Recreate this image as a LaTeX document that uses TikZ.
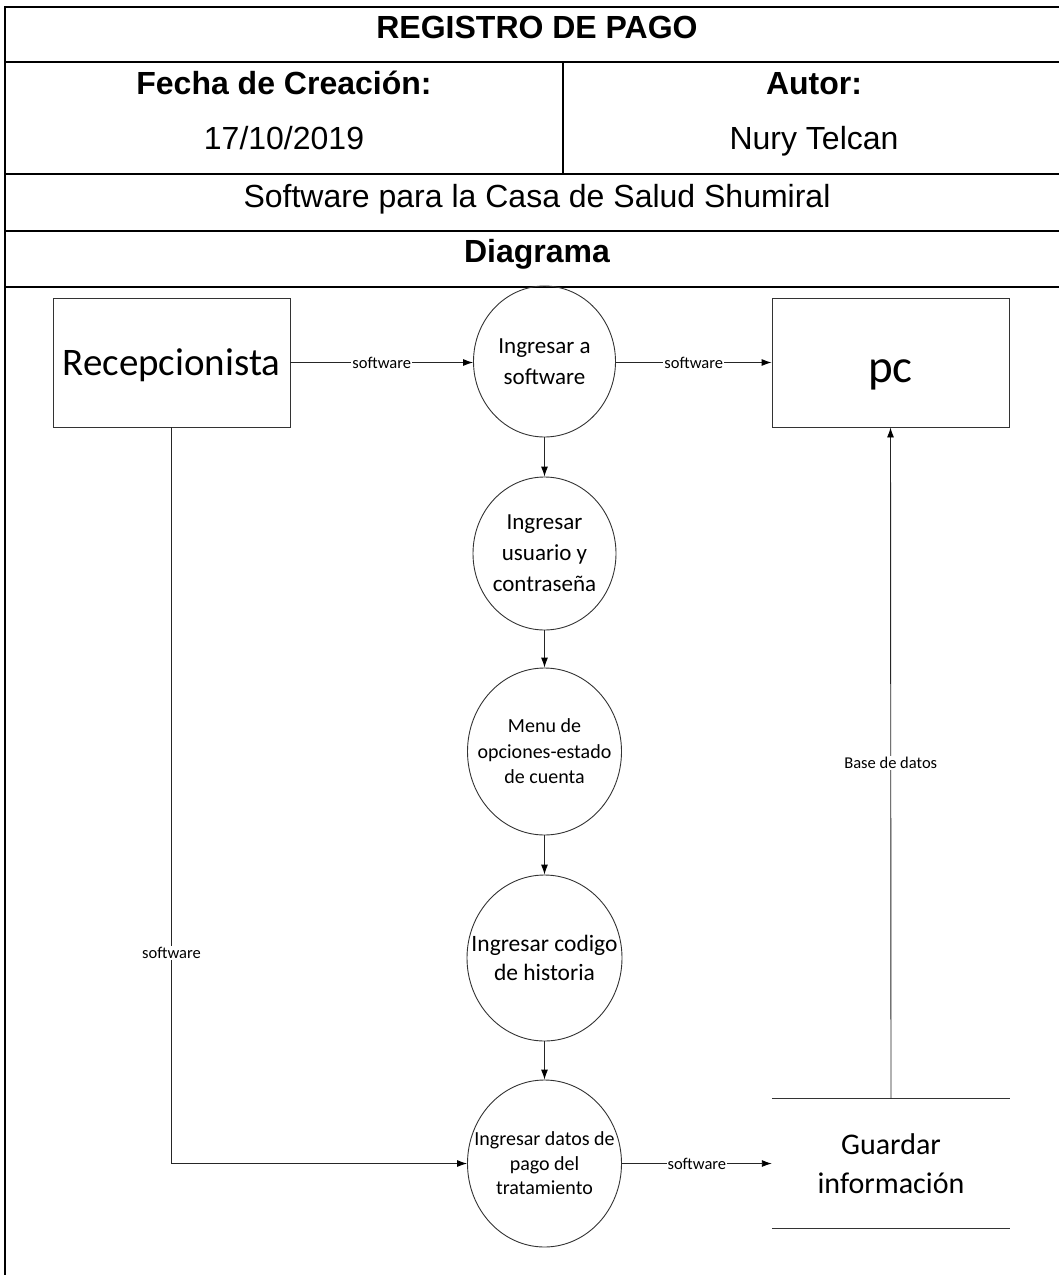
\documentclass[tikz,border=0pt]{standalone}
\usepackage{fontspec}
\setmainfont{Liberation Sans}
\newfontfamily\calibfont{Carlito}
\usetikzlibrary{shapes.geometric,arrows.meta}
\begin{document}
\begin{tikzpicture}[x=1pt,y=-1pt,
  gridline/.style={line width=1.6pt,black},
  hdr/.style={anchor=base,inner sep=0pt,font=\fontsize{32}{38}\selectfont\bfseries},
  cell/.style={anchor=base,inner sep=0pt,font=\fontsize{32}{38}\selectfont},
  ent/.style={draw=black!80,line width=0.9pt,rectangle,minimum width=237pt,minimum height=129pt,inner sep=0pt},
  proc/.style={draw=black!80,line width=0.9pt,ellipse,inner sep=0pt},
  ptext/.style={align=center,inner sep=0pt},
  flow/.style={draw=black!85,line width=0.9pt,-{Latex[length=10pt,width=7pt,color=black]}},
  lbl/.style={fill=white,inner sep=1pt,font=\calibfont\fontsize{16.5}{18}\selectfont},
]
\useasboundingbox (0,0) rectangle (1059,1275);

% table frame
\draw[gridline] (5,1285) -- (5,7) -- (1070,7);
\draw[gridline] (5,62) -- (1070,62);
\draw[gridline] (5,174) -- (1070,174);
\draw[gridline] (5,231) -- (1070,231);
\draw[gridline] (5,287) -- (1070,287);
\draw[line width=1.2pt] (563,62) -- (563,174);

% table texts
\node[hdr] (title) at (537,38.5) {REGISTRO DE PAGO};
\node[hdr] (fechah) at (284,94.5) {Fecha de Creación:};
\node[cell] (fecha) at (284,149.5) {17/10/2019};
\node[hdr] (autorh) at (814,94.5) {Autor:};
\node[cell] (autor) at (814,149.5) {Nury Telcan};
\node[cell] (proj) at (537,207) {Software para la Casa de Salud Shumiral};
\node[hdr] (diag) at (537,262) {Diagrama};

% external entities
\node[ent,font=\calibfont\fontsize{39}{42}\selectfont,text height=26pt,text depth=0pt] (rec) at (171.5,362.5) {Recepcionista};
\node[ent,font=\calibfont\fontsize{47}{50}\selectfont,text height=22pt,text depth=0pt] (pc) at (890.5,362.5) {\raisebox{-9pt}{pc}};

% processes
\node[proc,minimum width=142pt,minimum height=151pt,
  label={[ptext,font=\calibfont\fontsize{23}{31}\selectfont]center:{Ingresar a\\software}}] (c1) at (544.5,361.5) {};
\node[proc,minimum width=143pt,minimum height=153pt,
  label={[ptext,font=\calibfont\fontsize{23}{31}\selectfont]center:{Ingresar\\usuario y\\contraseña}}] (c2) at (544.5,553.5) {};
\node[proc,minimum width=154pt,minimum height=167pt,
  label={[ptext,font=\calibfont\fontsize{20}{25.5}\selectfont]center:{Menu de\\opciones-estado\\de cuenta}}] (c3) at (544.5,751.5) {};
\node[proc,minimum width=155pt,minimum height=166pt,
  label={[ptext,font=\calibfont\fontsize{23.5}{29}\selectfont]center:{Ingresar codigo\\de historia}}] (c4) at (544.5,958) {};
\node[proc,minimum width=154pt,minimum height=167pt,
  label={[ptext,font=\calibfont\fontsize{20}{24.5}\selectfont]center:{Ingresar datos de\\pago del\\tratamiento}}] (c5) at (544.5,1163.5) {};

% data store
\node[ptext,font=\calibfont\fontsize{30}{39}\selectfont,minimum width=238pt,minimum height=129pt] (store) at (891,1163.5) {Guardar\\información};
\draw[black!80,line width=0.9pt] (store.north west) -- (store.north east)
  (store.south west) -- (store.south east);

% flows
\draw[flow] (rec.east) -- node[lbl] {software} (rec.east -| c1.west);
\draw[flow] (c1.east |- pc.west) -- node[lbl] {software} (pc.west);
\draw[flow] (c1.south) -- (c2.north);
\draw[flow] (c2.south) -- (c3.north);
\draw[flow] (c3.south) -- (c4.north);
\draw[flow] (c4.south) -- (c5.north);
\draw[flow] (rec.south) |- node[lbl,pos=0.357] {software} (c5.west);
\draw[flow] (c5.east) -- node[lbl] {software} (store.west);
\draw[flow] (store.north) -- node[lbl] {Base de datos} (pc.south);
\end{tikzpicture}
\end{document}
